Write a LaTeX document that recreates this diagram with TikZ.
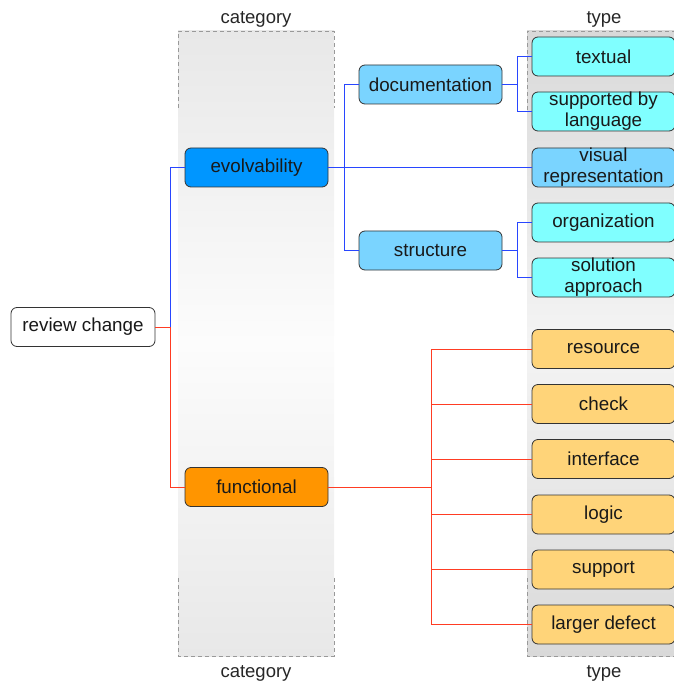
\documentclass[tikz,border=0pt]{standalone}
\usepackage{fontspec}
\setmainfont{Liberation Sans}
\definecolor{evoC}{RGB}{0,150,255}
\definecolor{funC}{RGB}{255,149,0}
\definecolor{docC}{RGB}{122,212,255}
\definecolor{cyanC}{RGB}{128,255,255}
\definecolor{yelC}{RGB}{255,212,121}
\definecolor{blueL}{RGB}{40,70,255}
\definecolor{redL}{RGB}{255,60,35}
\definecolor{catEdge}{RGB}{232,232,232}
\definecolor{catMid}{RGB}{252,252,252}
\definecolor{typEdge}{RGB}{217,217,217}
\definecolor{typMid}{RGB}{244,244,244}
\begin{document}
\begin{tikzpicture}[x=1pt,y=-1pt,
  box/.style={draw=black!80, line width=0.8pt, rounded corners=6pt,
    minimum width=143pt, minimum height=39pt, inner sep=0pt, align=center,
    font=\fontsize{18.8}{21}\selectfont, text=black!90},
  collabel/.style={font=\fontsize{18.5}{20}\selectfont, text=black!85},
  colborder/.style={draw=black!40, dash pattern=on 4pt off 3pt, line width=0.8pt},
  bl/.style={draw=blueL, line width=0.9pt},
  rd/.style={draw=redL, line width=0.9pt}]
\useasboundingbox (0,0) rectangle (673,684);

% column backgrounds
\shade[top color=catEdge, bottom color=catEdge, middle color=catMid] (178,31) rectangle (334,656);
\shade[top color=typEdge, bottom color=typEdge, middle color=typMid] (527,31) rectangle (690,656);
\draw[colborder] (178,108) -- (178,31) -- (334,31) -- (334,108);
\draw[colborder] (178,578) -- (178,656) -- (334,656) -- (334,578);
\draw[colborder] (527,110) -- (527,31) -- (690,31);
\draw[colborder] (527,578) -- (527,656) -- (690,656);

% column labels
\node[collabel] (catT) at (256,19.5) {category};
\node[collabel] (catB) at (256,673.5) {category};
\node[collabel] (typT) at (604,19.5) {type};
\node[collabel] (typB) at (604,673.5) {type};

% root
\node[box, fill=white, minimum width=144pt] (rev) at (83,327) {review change};

% categories
\node[box, fill=evoC] (evo) at (256.5,167.5) {evolvability};
\node[box, fill=funC] (fun) at (256.5,487) {functional};

% evolvability subgroups
\node[box, fill=docC] (doc) at (430.5,84.5) {documentation};
\node[box, fill=docC] (str) at (430.5,250.5) {structure};

% types
\node[box, fill=cyanC] (tex) at (603.5,56.5) {textual};
\node[box, fill=cyanC] (sup) at (603.5,111.5) {supported by\\language};
\node[box, fill=docC] (vis) at (603.5,167.5) {visual\\representation};
\node[box, fill=cyanC] (org) at (603.5,222.5) {organization};
\node[box, fill=cyanC] (sol) at (603.5,277.5) {solution\\approach};
\node[box, fill=yelC] (res) at (603.5,349) {resource};
\node[box, fill=yelC] (chk) at (603.5,404) {check};
\node[box, fill=yelC] (int) at (603.5,459) {interface};
\node[box, fill=yelC] (log) at (603.5,514.5) {logic};
\node[box, fill=yelC] (spt) at (603.5,569.5) {support};
\node[box, fill=yelC] (lar) at (603.5,624.5) {larger defect};

% junctions
\coordinate (j1) at (170,327);
\coordinate (j2) at (344,167.5);
\coordinate (j3) at (517,84.5);
\coordinate (j4) at (517,250.5);
\coordinate (j5) at (431,487);

% connectors
\draw[rd] (rev.east) -- (j1) |- (fun.west);
\draw[bl] (j1) |- (evo.west);
\draw[bl] (evo.east) -- (vis.west);
\draw[bl] (j2) |- (doc.west);
\draw[bl] (j2) |- (str.west);
\draw[bl] (doc.east) -- (j3) |- (tex.west);
\draw[bl] (j3) |- (sup.west);
\draw[bl] (str.east) -- (j4) |- (org.west);
\draw[bl] (j4) |- (sol.west);
\draw[rd] (fun.east) -- (j5);
\foreach \t in {res,chk,int,log,spt,lar}
  \draw[rd] (j5) |- (\t.west);
\end{tikzpicture}
\end{document}
